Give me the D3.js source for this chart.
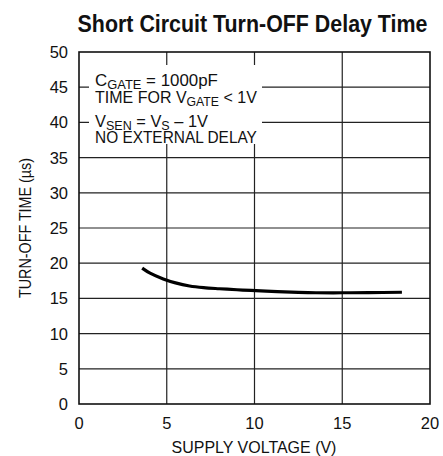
<!DOCTYPE html>
<html>
<head>
<meta charset="utf-8">
<script src="https://cdn.jsdelivr.net/npm/d3@7"></script>
<style>
  body { margin:0; background:#fff; }
  svg text { font-family: "Liberation Sans Narrow", "Liberation Sans", Arial, sans-serif; fill:#111; }
</style>
</head>
<body>
<div id="chart"></div>
<script>
// data
const xTicks = [0, 5, 10, 15, 20];
const yTicks = [0, 5, 10, 15, 20, 25, 30, 35, 40, 45, 50];
const supplyV = [3.6, 4.05, 4.8, 5.5, 6.3, 7.1, 8.0, 9.0, 9.8, 11.3, 12.5, 13.5, 15.0, 16.5, 18.4];
const turnOff = [19.3, 18.58, 17.76, 17.2, 16.76, 16.52, 16.37, 16.23, 16.13, 15.95, 15.85, 15.8, 15.8, 15.82, 15.87];
const noteLines = [
  [["C",""],["GATE","sub"],[" = 1000pF",""]],
  [["TIME FOR V",""],["GATE","sub"],[" < 1V",""]],
  [["V",""],["SEN","sub"],[" = V",""],["S","sub"],[" – 1V",""]],
  [["NO EXTERNAL DELAY",""]]
];
const noteWidths = [123, 162, 113, 162];
const noteBase = [34, 51, 75, 91];

const W = 443, H = 456;
const m = {top:52, right:13, bottom:52, left:79};
const iw = W - m.left - m.right, ih = H - m.top - m.bottom;

const svg = d3.select('#chart').append('svg').attr('width',W).attr('height',H);

// squeeze a text horizontally to a target width (reference font is condensed)
function squeeze(sel, tx, ty, target, rot){
  const w = sel.node().getComputedTextLength();
  const k = target / w;
  sel.attr('x',0).attr('y',0)
    .attr('transform', `translate(${tx},${ty})${rot?` rotate(${rot})`:''} scale(${k},1)`);
}

// title
const title = svg.append('text')
  .attr('font-size', 23).attr('font-weight','bold')
  .attr('text-anchor','middle')
  .text('Short Circuit Turn-OFF Delay Time');
squeeze(title, 252.5, 32, 350);

const g = svg.append('g').attr('transform',`translate(${m.left},${m.top})`);

const x = d3.scaleLinear().domain([0,20]).range([0,iw]);
const y = d3.scaleLinear().domain([0,50]).range([ih,0]);

// grid
g.selectAll('.vgrid').data(xTicks.slice(1,-1)).enter().append('line')
  .attr('x1',d=>x(d)).attr('x2',d=>x(d)).attr('y1',0).attr('y2',ih)
  .attr('stroke','#222').attr('stroke-width',1.2);
g.selectAll('.hgrid').data(yTicks.slice(1,-1)).enter().append('line')
  .attr('x1',0).attr('x2',iw).attr('y1',d=>y(d)).attr('y2',d=>y(d))
  .attr('stroke','#222').attr('stroke-width',1.2);

// note box (covers grid)
g.append('rect')
  .attr('x', 10).attr('y', 13).attr('width', 173).attr('height', 79)
  .attr('fill','#fff');

noteLines.forEach((ln,i)=>{
  const t = g.append('text').attr('font-size',17);
  let wasSub = false;
  ln.forEach(([s,kind])=>{
    const sp = t.append('tspan').text(s);
    if(kind==='sub'){ sp.attr('font-size',13).attr('dy', wasSub?0:3); wasSub = true; }
    else { if(wasSub) sp.attr('dy',-3); wasSub = false; }
  });
  squeeze(t, 16, noteBase[i], noteWidths[i]);
});

// border
g.append('rect').attr('width',iw).attr('height',ih)
  .attr('fill','none').attr('stroke','#111').attr('stroke-width',1.6);

// tick labels
g.selectAll('.ylab').data(yTicks).enter().append('text')
  .attr('x',-11).attr('y',d=>y(d)+6)
  .attr('text-anchor','end').attr('font-size',16.5)
  .text(d=>d);
g.selectAll('.xlab').data(xTicks).enter().append('text')
  .attr('x',d=>x(d)).attr('y',ih+25)
  .attr('text-anchor','middle').attr('font-size',16.5)
  .text(d=>d);

// axis titles
const xt = svg.append('text').attr('font-size',16.5).attr('text-anchor','middle')
  .text('SUPPLY VOLTAGE (V)');
squeeze(xt, 254, 453, 165);
const yt = svg.append('text').attr('font-size',16.5).attr('text-anchor','middle')
  .text('TURN-OFF TIME (µs)');
squeeze(yt, 31, m.top+ih/2, 140, -90);

// curve
const line = d3.line().x(d=>x(d[0])).y(d=>y(d[1])).curve(d3.curveCatmullRom);
g.append('path').datum(d3.zip(supplyV, turnOff))
  .attr('fill','none').attr('stroke','#000').attr('stroke-width',3.2)
  .attr('d', line);
</script>
</body>
</html>
